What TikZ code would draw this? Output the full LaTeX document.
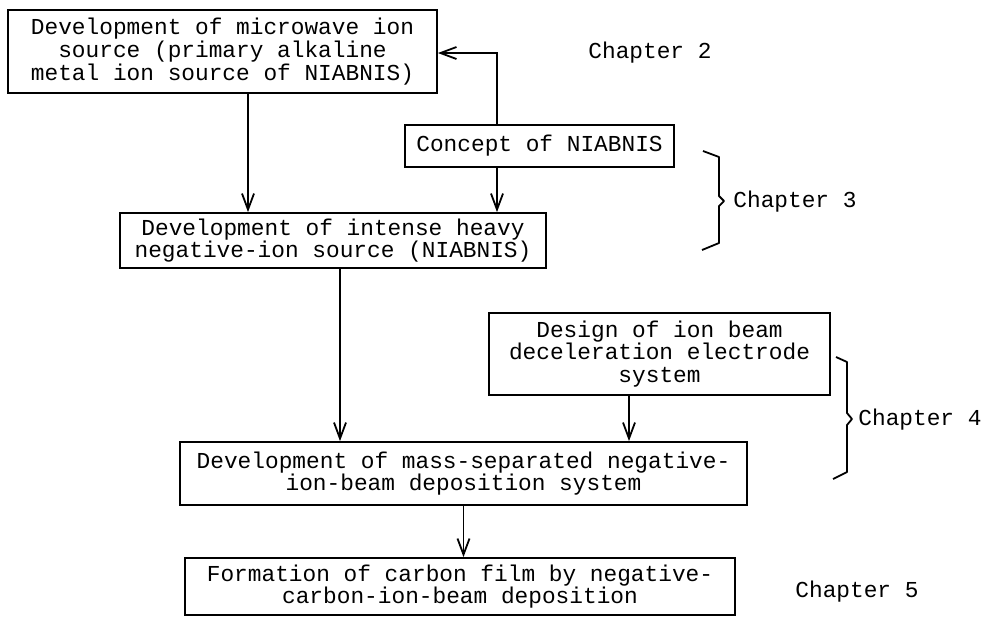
\documentclass[tikz,border=0pt]{standalone}
\usepackage{fontspec}
\usepackage{tikz}
\usetikzlibrary{positioning,arrows.meta,calc}
\newfontfamily\typefont{Liberation Mono}
\newcommand{\boxfont}{\typefont\fontsize{11.4}{11.3}\selectfont}

\begin{document}
\begin{tikzpicture}[x=0.5pt,y=-0.5pt,
  block/.style={draw,line width=0.9pt,font=\boxfont,align=center,inner sep=0pt},
  flow/.style={line width=0.9pt,-{Straight Barb[length=8pt,width=6pt]}},
  chap/.style={font=\boxfont,anchor=west,inner sep=0pt},
  brace/.style={line width=0.9pt,line join=round}]
\useasboundingbox (0,0) rectangle (988,623);

% Boxes
\node[block,minimum width=214.5pt,minimum height=41.5pt] (micro) at (222.5,51.5)
  {Development of microwave ion\\source (primary alkaline\\metal ion source of NIABNIS)};
\node[block,minimum width=134.5pt,minimum height=21pt] (concept) at (539.5,146)
  {Concept of NIABNIS};
\node[block,minimum width=213pt,minimum height=27.5pt] (intense) at (333,240.5)
  {Development of intense heavy\\negative-ion source (NIABNIS)};
\node[block,minimum width=170.5pt,minimum height=41pt] (design) at (659.5,354)
  {Design of ion beam\\deceleration electrode\\system};
\node[block,minimum width=283.5pt,minimum height=31.5pt] (mass) at (463.5,473.5)
  {Development of mass-separated negative-\\ion-beam deposition system};
\node[block,minimum width=275pt,minimum height=28.5pt] (film) at (460,586.5)
  {Formation of carbon film by negative-\\carbon-ion-beam deposition};

% Arrow columns
\coordinate (colA) at (248,0);
\coordinate (colB) at (497,53);
\coordinate (colC) at (340,0);
\coordinate (colD) at (629,0);

\draw[flow] (colA |- micro.south) -- (colA |- intense.north);
\draw[flow] (colB |- concept.north) -- (colB) -- (colB -| micro.east);
\draw[flow] (colB |- concept.south) -- (colB |- intense.north);
\draw[flow] (colC |- intense.south) -- (colC |- mass.north);
\draw[flow] (colD |- design.south) -- (colD |- mass.north);
\draw[flow] (mass.south) -- (mass.south |- film.north);

% Chapters
\node[chap] (ch2) at (588,53) {Chapter 2};
\draw[brace] (703,151) -- (719,157) -- (719,196) -- (724,201) -- (719,206) -- (719,243) -- (702,250);
\node[chap] (ch3) at (733,202) {Chapter 3};
\draw[brace] (836,357) -- (847,362) -- (847,413) -- (852,419) -- (847,425) -- (847,472) -- (833,479);
\node[chap] (ch4) at (858,420) {Chapter 4};
\node[chap] (ch5) at (795,592) {Chapter 5};
\end{tikzpicture}
\end{document}
